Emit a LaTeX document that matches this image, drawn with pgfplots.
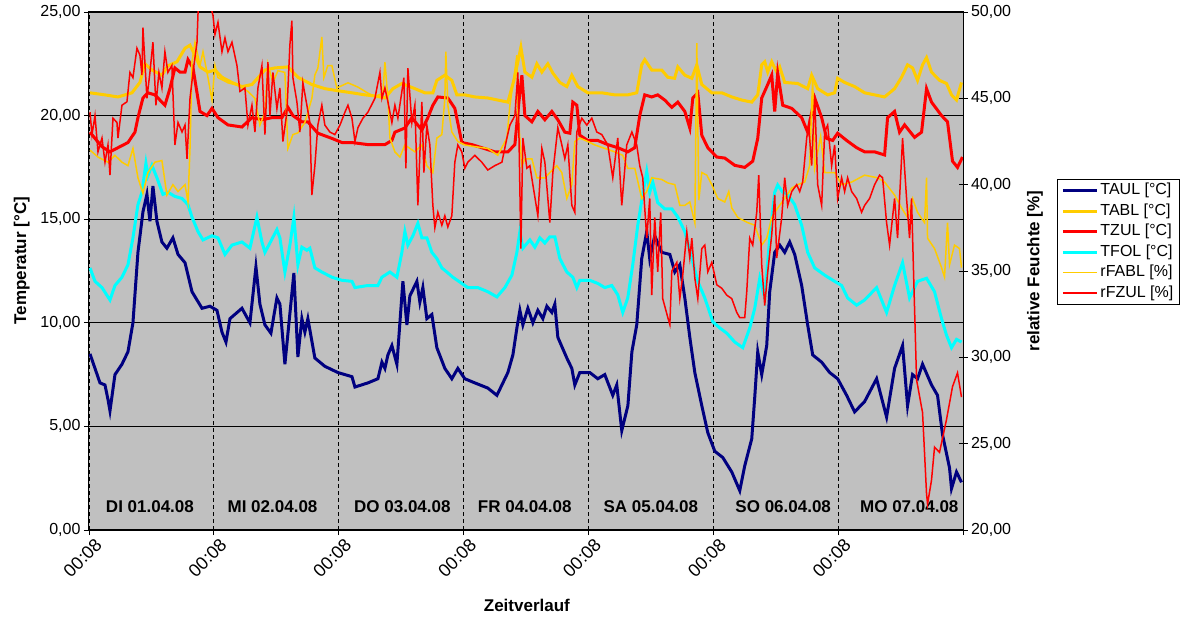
\documentclass[border=0pt]{standalone}
\usepackage{fontspec}
\setmainfont{Liberation Sans}
\usepackage{pgfplots}
\usepackage{pgfplotstable}
\pgfplotsset{compat=1.18}

\definecolor{plotbg}{HTML}{C0C0C0}
\definecolor{cTAUL}{HTML}{000080}
\definecolor{cTABL}{HTML}{FFCC00}
\definecolor{cTZUL}{HTML}{FF0000}
\definecolor{cTFOL}{HTML}{00FFFF}

% x = days since 01.04.08 00:08, y = temperature / humidity
\pgfplotstableread{
x y
0.008 8.5
0.048 7.8
0.088 7.1
0.128 7.0
0.152 6.3
0.168 5.75
0.208 7.5
0.264 8.0
0.312 8.6
0.352 10.0
0.392 13.4
0.432 15.35
0.464 16.2
0.488 14.9
0.512 16.6
0.544 14.9
0.584 13.9
0.624 13.6
0.672 14.1
0.713 13.3
0.769 12.9
0.825 11.5
0.905 10.7
0.969 10.8
1.025 10.6
1.065 9.55
1.097 9.07
1.129 10.2
1.225 10.7
1.289 10.0
1.337 12.7
1.369 10.9
1.409 9.9
1.457 9.5
1.505 11.2
1.529 10.9
1.569 8.0
1.641 12.4
1.673 8.35
1.705 10.2
1.729 9.55
1.753 10.2
1.809 8.3
1.889 7.9
1.993 7.6
2.106 7.4
2.130 6.9
2.234 7.1
2.314 7.3
2.346 8.1
2.370 7.8
2.394 8.45
2.426 8.9
2.466 8.0
2.490 10.0
2.514 12.0
2.546 9.9
2.570 11.3
2.626 12.0
2.650 11.0
2.674 11.7
2.706 10.2
2.746 10.4
2.786 8.8
2.850 7.8
2.906 7.3
2.954 7.8
3.010 7.3
3.090 7.1
3.194 6.85
3.267 6.5
3.355 7.6
3.395 8.45
3.427 9.75
3.451 10.6
3.475 9.9
3.515 10.7
3.555 10.0
3.595 10.6
3.635 10.2
3.667 10.8
3.707 10.5
3.731 10.9
3.755 9.3
3.827 8.3
3.867 7.8
3.891 7.0
3.931 7.6
4.011 7.6
4.075 7.3
4.131 7.5
4.195 6.5
4.227 7.0
4.267 4.8
4.316 6.0
4.348 8.6
4.387 9.9
4.427 13.1
4.467 14.4
4.491 13.1
4.531 14.2
4.587 13.4
4.652 13.3
4.692 12.45
4.732 12.8
4.772 11.2
4.812 9.3
4.852 7.6
4.908 6.0
4.956 4.7
5.012 3.8
5.076 3.5
5.148 2.8
5.212 1.9
5.252 3.1
5.308 4.4
5.332 6.4
5.356 8.6
5.388 7.5
5.428 8.9
5.452 11.5
5.492 13.4
5.532 13.75
5.572 13.4
5.612 13.9
5.652 13.3
5.708 11.8
5.756 9.9
5.796 8.45
5.868 8.1
5.932 7.6
5.996 7.3
6.068 6.5
6.132 5.7
6.212 6.2
6.308 7.3
6.388 5.45
6.452 7.8
6.516 8.9
6.556 6.0
6.596 7.5
6.636 7.3
6.676 8.0
6.748 7.0
6.796 6.5
6.836 4.6
6.892 3.0
6.908 2.0
6.948 2.8
6.988 2.3
}\taul

\pgfplotstableread{
x y
0.008 21.1
0.128 21.0
0.232 20.9
0.344 21.1
0.408 21.6
0.448 22.5
0.504 22.2
0.584 21.95
0.632 22.4
0.705 22.6
0.769 23.25
0.809 23.4
0.849 22.9
0.889 22.35
0.953 22.1
1.009 22.2
1.065 21.85
1.145 21.6
1.225 21.4
1.305 21.5
1.409 22.2
1.489 22.3
1.593 22.35
1.673 21.85
1.785 21.5
1.889 21.3
1.993 21.2
2.106 21.1
2.210 21.0
2.290 20.95
2.370 20.85
2.434 21.3
2.506 21.55
2.610 21.3
2.690 21.1
2.754 21.1
2.786 21.7
2.850 21.95
2.906 21.7
2.946 21.0
3.010 21.0
3.090 20.9
3.194 20.85
3.274 20.75
3.355 20.65
3.403 21.7
3.435 22.6
3.459 23.3
3.491 22.1
3.547 21.85
3.587 22.5
3.627 22.1
3.675 22.5
3.715 22.05
3.771 21.6
3.827 21.4
3.867 21.95
3.915 21.4
3.995 21.1
4.107 21.1
4.211 21.0
4.315 21.0
4.387 21.1
4.427 22.45
4.451 22.7
4.507 22.2
4.587 22.2
4.636 21.85
4.690 21.8
4.716 22.35
4.772 21.95
4.828 21.8
4.868 22.45
4.908 21.5
4.988 21.1
5.068 21.1
5.148 20.9
5.228 20.75
5.308 20.65
5.356 21.0
5.388 22.45
5.412 22.6
5.436 22.1
5.468 22.6
5.508 22.1
5.532 22.35
5.572 21.6
5.676 21.55
5.756 21.3
5.788 21.95
5.836 21.3
5.916 21.0
5.972 21.1
5.996 21.8
6.052 21.6
6.132 21.4
6.212 21.1
6.292 21.0
6.372 20.9
6.452 21.3
6.508 21.85
6.556 22.45
6.596 22.3
6.636 21.7
6.676 22.45
6.708 22.8
6.748 22.1
6.812 21.7
6.868 21.55
6.908 21.0
6.948 20.75
6.988 21.6
}\tabl

\pgfplotstableread{
x y
0.008 19.2
0.048 18.9
0.104 18.5
0.168 18.25
0.232 18.45
0.312 18.7
0.368 19.2
0.392 19.9
0.432 20.85
0.472 21.1
0.528 21.0
0.608 20.5
0.648 21.3
0.688 22.3
0.729 22.1
0.769 22.1
0.793 22.7
0.833 22.3
0.865 21.1
0.889 20.2
0.945 20.0
0.985 20.35
1.033 19.9
1.113 19.55
1.225 19.45
1.305 19.9
1.385 19.8
1.465 19.9
1.545 19.9
1.593 20.4
1.633 20.0
1.705 19.7
1.753 19.7
1.833 19.15
1.945 18.9
2.026 18.7
2.106 18.7
2.234 18.6
2.370 18.6
2.426 18.8
2.450 19.2
2.530 19.4
2.586 19.9
2.666 19.3
2.714 19.9
2.754 20.5
2.794 20.9
2.874 20.85
2.930 20.35
2.986 18.7
3.066 18.6
3.146 18.45
3.250 18.25
3.355 18.25
3.411 18.6
3.443 20.65
3.467 21.95
3.491 20.0
3.547 19.7
3.595 20.2
3.651 19.8
3.707 20.2
3.755 19.8
3.811 19.2
3.851 19.15
3.875 20.65
3.907 20.5
3.931 19.05
3.995 18.8
4.075 18.8
4.155 18.6
4.235 18.45
4.315 18.25
4.371 18.45
4.411 20.0
4.451 21.0
4.507 20.9
4.555 21.0
4.611 20.75
4.668 20.4
4.716 20.65
4.772 20.2
4.812 19.4
4.836 20.85
4.876 21.1
4.908 19.05
4.956 18.45
5.028 18.0
5.092 17.95
5.172 17.6
5.252 17.5
5.316 17.8
5.356 18.9
5.388 20.85
5.436 21.5
5.468 21.95
5.492 20.2
5.516 22.05
5.556 20.5
5.628 20.35
5.708 19.9
5.756 19.2
5.812 20.85
5.868 19.9
5.908 18.9
5.956 18.8
5.996 19.15
6.068 18.8
6.148 18.45
6.212 18.25
6.292 18.25
6.372 18.1
6.396 19.9
6.452 20.2
6.492 19.2
6.532 19.55
6.612 18.95
6.668 19.2
6.708 21.3
6.748 20.65
6.828 20.0
6.876 19.7
6.916 17.8
6.956 17.5
6.996 18.0
}\tzul

\pgfplotstableread{
x y
0.008 12.65
0.048 12.0
0.104 11.7
0.168 11.1
0.208 11.8
0.264 12.2
0.312 12.8
0.352 14.1
0.392 15.7
0.424 16.3
0.456 17.7
0.472 17.1
0.504 17.6
0.544 17.0
0.592 16.2
0.632 16.3
0.688 16.1
0.745 16.0
0.793 15.7
0.825 15.1
0.873 14.4
0.913 14.0
0.985 14.2
1.033 14.1
1.089 13.3
1.145 13.75
1.225 13.9
1.289 13.6
1.345 15.1
1.385 13.9
1.409 13.4
1.449 13.85
1.505 14.5
1.529 14.1
1.569 12.45
1.609 13.75
1.641 15.1
1.673 12.8
1.705 13.65
1.745 13.5
1.769 13.6
1.809 12.65
1.865 12.45
1.945 12.2
2.026 12.05
2.106 12.0
2.130 11.7
2.234 11.8
2.314 11.8
2.346 12.2
2.410 12.45
2.466 12.2
2.506 13.4
2.530 14.4
2.554 13.75
2.594 14.2
2.634 14.8
2.666 14.1
2.706 14.1
2.746 13.4
2.786 13.1
2.826 12.65
2.866 12.45
2.914 12.2
2.986 11.9
3.034 11.7
3.114 11.7
3.194 11.5
3.267 11.25
3.331 11.7
3.387 12.3
3.427 13.4
3.451 14.4
3.475 13.6
3.531 14.0
3.571 13.65
3.611 14.1
3.651 13.85
3.691 14.15
3.731 14.15
3.771 13.1
3.827 12.45
3.875 12.2
3.907 11.7
3.931 12.05
4.011 12.05
4.075 11.9
4.131 11.7
4.187 11.8
4.235 11.35
4.275 10.5
4.315 11.2
4.355 12.8
4.395 14.7
4.435 16.2
4.467 17.3
4.491 16.3
4.515 16.8
4.555 15.8
4.611 15.5
4.668 15.5
4.716 15.1
4.772 14.4
4.828 13.1
4.876 12.0
4.932 11.2
4.996 10.05
5.052 9.75
5.108 9.5
5.172 9.07
5.236 8.8
5.292 9.75
5.332 10.7
5.372 12.15
5.412 11.2
5.452 14.1
5.492 16.3
5.516 16.65
5.556 16.3
5.596 16.2
5.652 15.7
5.708 14.7
5.756 13.4
5.812 12.65
5.892 12.3
5.972 12.0
6.028 11.8
6.076 11.2
6.148 10.85
6.212 11.1
6.308 11.7
6.388 10.5
6.452 11.8
6.516 12.9
6.572 11.2
6.636 12.0
6.708 12.15
6.772 11.5
6.828 10.2
6.868 9.4
6.908 8.8
6.948 9.2
6.988 9.07
}\tfol

\pgfplotstableread{
x y
0.008 42.0
0.072 41.6
0.152 41.3
0.208 41.7
0.264 41.3
0.312 41.1
0.352 42.1
0.392 40.4
0.432 39.5
0.472 40.7
0.528 41.3
0.584 41.4
0.624 39.4
0.672 40.0
0.713 39.6
0.769 40.0
0.793 39.0
0.809 42.1
0.825 47.1
0.849 48.25
0.889 46.9
0.913 47.7
0.953 46.2
0.985 44.9
1.009 46.9
1.033 46.2
1.113 45.9
1.193 45.75
1.273 45.4
1.329 45.0
1.369 43.45
1.409 44.2
1.433 47.0
1.473 45.9
1.513 46.6
1.569 46.5
1.593 42.1
1.633 42.9
1.673 43.0
1.729 43.6
1.785 45.0
1.809 46.35
1.833 46.75
1.865 48.55
1.881 46.2
1.913 46.9
1.945 46.9
1.985 45.6
2.074 45.9
2.154 45.65
2.234 45.3
2.290 45.1
2.354 45.3
2.370 47.1
2.394 45.0
2.410 42.7
2.450 41.9
2.490 41.6
2.530 42.3
2.610 41.9
2.666 42.3
2.706 41.1
2.754 40.7
2.786 42.7
2.826 42.9
2.850 45.0
2.858 47.7
2.874 44.6
2.906 43.05
2.954 42.5
3.010 42.3
3.090 42.2
3.194 42.1
3.274 41.7
3.347 42.7
3.371 44.6
3.403 46.2
3.427 47.5
3.435 44.2
3.467 41.1
3.491 41.5
3.547 41.5
3.587 40.4
3.651 40.4
3.691 40.7
3.747 41.1
3.787 40.7
3.827 39.2
3.867 40.0
3.891 42.5
3.931 42.7
3.995 42.5
4.051 42.3
4.131 42.1
4.211 41.9
4.275 41.7
4.315 40.95
4.371 40.95
4.427 39.2
4.467 39.6
4.507 40.4
4.587 40.3
4.636 40.1
4.692 40.0
4.732 38.8
4.772 38.8
4.812 39.0
4.852 37.8
4.868 48.2
4.884 39.1
4.908 40.7
4.948 40.55
4.988 40.0
5.036 39.2
5.092 39.0
5.124 39.6
5.148 38.65
5.196 38.1
5.276 37.8
5.332 37.65
5.388 36.5
5.428 36.9
5.468 38.1
5.516 38.65
5.572 39.2
5.628 39.8
5.676 40.0
5.732 40.15
5.772 41.1
5.796 46.3
5.812 40.95
5.860 42.8
5.892 40.7
5.972 40.7
6.028 40.0
6.108 40.15
6.212 40.55
6.316 40.4
6.372 40.15
6.452 39.4
6.508 38.65
6.556 38.1
6.596 39.2
6.636 38.4
6.692 37.8
6.708 40.4
6.716 36.9
6.772 36.3
6.828 35.2
6.852 34.65
6.876 37.8
6.892 35.35
6.932 36.5
6.972 36.3
6.988 35.2
}\rfabl

\pgfplotstableread{
x y
0.008 44.2
0.024 42.9
0.048 44.0
0.072 41.9
0.104 42.7
0.128 41.3
0.152 42.3
0.168 40.55
0.192 43.85
0.224 43.6
0.232 42.7
0.264 44.6
0.304 44.8
0.328 46.5
0.352 46.2
0.384 47.9
0.408 47.5
0.424 46.35
0.432 49.1
0.464 45.0
0.488 46.5
0.512 48.25
0.536 44.6
0.560 46.5
0.584 45.6
0.608 47.7
0.632 46.5
0.664 46.9
0.688 42.3
0.713 43.6
0.745 43.05
0.769 43.45
0.785 41.5
0.809 45.0
0.833 46.5
0.865 48.25
0.881 51.5
0.929 51.5
0.969 50.5
0.993 49.8
1.009 48.7
1.033 49.4
1.065 47.7
1.089 48.5
1.113 47.7
1.145 48.25
1.185 46.9
1.209 45.4
1.249 45.6
1.273 43.45
1.305 44.6
1.329 43.05
1.353 45.6
1.385 46.9
1.409 42.9
1.433 47.1
1.449 44.0
1.473 46.5
1.505 44.4
1.529 45.6
1.553 42.5
1.585 44.2
1.609 48.1
1.625 49.5
1.633 46.2
1.665 44.8
1.689 43.05
1.713 45.9
1.745 44.6
1.769 43.6
1.785 39.4
1.809 41.1
1.833 43.45
1.865 44.6
1.889 43.45
1.929 43.05
1.969 42.9
2.010 43.45
2.050 44.2
2.074 44.6
2.106 43.85
2.130 42.5
2.154 43.3
2.194 43.85
2.234 44.2
2.290 45.0
2.330 46.5
2.346 45.0
2.370 45.6
2.394 44.8
2.426 43.6
2.450 44.6
2.474 43.85
2.506 45.4
2.522 46.2
2.538 40.95
2.554 46.75
2.586 43.6
2.610 44.6
2.634 38.8
2.666 44.8
2.682 40.7
2.706 43.45
2.730 42.3
2.754 38.8
2.770 37.5
2.794 38.4
2.826 37.65
2.850 38.2
2.874 37.55
2.906 38.2
2.930 41.3
2.954 42.3
2.986 41.9
3.010 40.95
3.034 41.3
3.090 41.7
3.146 41.3
3.194 40.85
3.250 41.1
3.307 41.3
3.347 42.7
3.371 43.45
3.411 44.0
3.435 46.5
3.459 36.3
3.475 42.7
3.507 40.95
3.531 41.1
3.555 40.0
3.595 38.2
3.627 42.1
3.651 41.3
3.691 37.8
3.715 40.7
3.755 43.3
3.787 42.3
3.811 41.5
3.835 42.3
3.867 38.8
3.891 38.4
3.907 43.05
3.947 43.85
3.987 43.45
4.027 43.85
4.067 43.05
4.107 42.9
4.155 42.3
4.195 40.4
4.235 42.7
4.267 38.8
4.307 42.3
4.348 43.05
4.387 42.3
4.411 41.1
4.435 40.4
4.467 36.9
4.491 39.2
4.507 33.6
4.531 38.1
4.555 34.95
4.579 38.4
4.595 33.4
4.636 32.3
4.652 31.9
4.668 35.0
4.708 35.5
4.732 33.4
4.756 34.8
4.788 37.25
4.812 35.75
4.828 36.9
4.852 34.6
4.876 33.4
4.908 36.3
4.932 36.5
4.956 34.95
4.988 35.5
5.028 34.2
5.068 34.0
5.108 33.6
5.148 33.4
5.188 32.6
5.212 32.3
5.252 32.3
5.268 33.8
5.292 36.9
5.316 36.5
5.348 38.4
5.364 40.55
5.388 35.35
5.412 33.0
5.436 34.95
5.468 37.1
5.492 39.4
5.508 35.75
5.548 38.1
5.572 40.4
5.596 38.8
5.628 39.6
5.668 40.0
5.692 39.6
5.716 40.15
5.748 42.7
5.764 43.45
5.788 41.1
5.812 45.2
5.836 40.0
5.868 38.8
5.892 43.05
5.916 43.45
5.948 41.1
5.972 42.3
5.996 39.2
6.028 40.4
6.052 39.6
6.076 40.4
6.108 39.6
6.148 39.2
6.188 38.4
6.212 38.8
6.252 39.2
6.292 40.0
6.332 40.55
6.356 40.4
6.388 37.8
6.412 36.5
6.452 39.2
6.476 36.9
6.516 42.7
6.548 39.2
6.572 36.9
6.588 39.2
6.604 34.9
6.628 28.7
6.676 26.8
6.708 22.1
6.716 21.5
6.748 22.9
6.772 24.8
6.812 24.5
6.868 26.4
6.916 28.3
6.956 29.1
6.988 27.7
}\rfzul

\pgfplotsset{
  chartbase/.style={
    width=874pt, height=518pt, scale only axis,
    xmin=0, xmax=7,
    tick style={black, line width=0.8pt},
    axis line style={black, line width=1pt},
    tick label style={font=\fontsize{16}{19}\selectfont},
    label style={font=\bfseries\fontsize{17}{20}\selectfont},
    yticklabel style={/pgf/number format/.cd, fixed, fixed zerofill, precision=2, use comma, assume math mode=true},
  },
}

\begin{document}
\begin{tikzpicture}
\begin{axis}[
  chartbase,
  ymin=0, ymax=25,
  ytick={0,5,...,25},
  xtick={0,1,...,7},
  xticklabels={00:08,00:08,00:08,00:08,00:08,00:08,00:08,{}},
  xtick pos=lower, ytick pos=lower,
  tick align=outside, major tick length=5pt,
  xticklabel style={font=\fontsize{18}{20}\selectfont, rotate=45, anchor=north east, inner sep=0pt, xshift=2pt, yshift=-5pt},
  axis background/.style={fill=plotbg},
  xmajorgrids, ymajorgrids,
  major x grid style={black, line width=0.8pt, dash pattern=on 4pt off 3pt},
  major y grid style={black, line width=0.8pt},
  ylabel={Temperatur [°C]},
  ylabel style={at={(axis description cs:-0.077,0.52)}, anchor=center},
  xlabel={Zeitverlauf},
  xlabel style={at={(axis description cs:0.501,-0.145)}, anchor=center},
]
\addplot[cTAUL, line width=3pt] table {\taul};
\addplot[cTABL, line width=3pt] table {\tabl};
\addplot[cTZUL, line width=3pt] table {\tzul};
\addplot[cTFOL, line width=3pt] table {\tfol};
\begin{scope}[font=\bfseries\fontsize{17}{20}\selectfont]
\node at (axis cs:0.488,1.11) {DI 01.04.08};
\node at (axis cs:1.47,1.11) {MI 02.04.08};
\node at (axis cs:2.51,1.11) {DO 03.04.08};
\node at (axis cs:3.49,1.11) {FR 04.04.08};
\node at (axis cs:4.50,1.11) {SA 05.04.08};
\node at (axis cs:5.56,1.11) {SO 06.04.08};
\node at (axis cs:6.57,1.11) {MO 07.04.08};
\end{scope}
\end{axis}
\begin{axis}[
  chartbase,
  ymin=20, ymax=50,
  ytick={20,25,...,50},
  axis x line=none, axis y line*=right,
  tick align=center, major tick length=9pt,
  ylabel={relative Feuchte [\%]},
  ylabel style={at={(axis description cs:1.0824,0.5)}, anchor=center},
  legend style={at={(axis description cs:1.1076,0.6776)}, anchor=north west,
    draw=black, fill=white, line width=0.8pt,
    font=\fontsize{16}{19}\selectfont, row sep=0pt,
    inner xsep=4pt, inner ysep=1pt,
    nodes={inner ysep=2pt, text height=12.5pt, text depth=4pt}},
  legend cell align=left,
  legend image code/.code={\draw[#1] (0pt,0pt) -- (34pt,0pt);},
]
\addlegendimage{cTAUL, line width=3pt}
\addlegendentry{TAUL [°C]}
\addlegendimage{cTABL, line width=3pt}
\addlegendentry{TABL [°C]}
\addlegendimage{cTZUL, line width=3pt}
\addlegendentry{TZUL [°C]}
\addlegendimage{cTFOL, line width=3pt}
\addlegendentry{TFOL [°C]}
\addplot[cTABL, line width=1.5pt] table {\rfabl};
\addlegendentry{rFABL [\%]}
\addplot[cTZUL, line width=1.5pt] table {\rfzul};
\addlegendentry{rFZUL [\%]}
\end{axis}
\pgfresetboundingbox
\path[use as bounding box] (-89pt,-88pt) rectangle (1097pt,530pt);
\end{tikzpicture}
\end{document}
